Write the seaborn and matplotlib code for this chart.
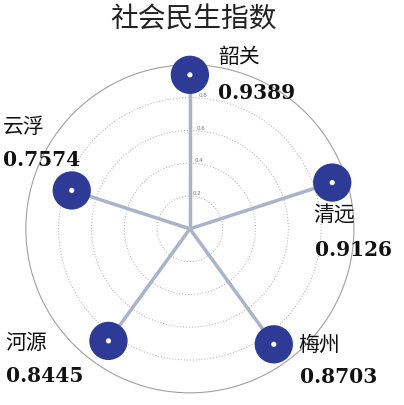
import numpy as np
import pandas as pd
import matplotlib
matplotlib.use("Agg")
import matplotlib.pyplot as plt
import seaborn as sns

cities = ["韶关", "清远", "梅州", "河源", "云浮"]
values = [0.9389, 0.9126, 0.8703, 0.8445, 0.7574]
angles_deg = [0, 72, 144, 216, 288]
ring_ticks = [0.2, 0.4, 0.6, 0.8]
ring_labels = ["0.2", "0.4", "0.6", "0.8"]
title = "社会民生指数"

sns.set_style("white")
plt.rcParams["font.family"] = ["Noto Sans CJK SC", "DejaVu Sans"]

theta = np.deg2rad(angles_deg)
pts = pd.DataFrame({"city": cities, "theta": theta, "r": values})
spokes = pd.DataFrame({
    "city": [c for c in cities for _ in range(2)],
    "theta": [t for t in theta for _ in range(2)],
    "r": [x for v in values for x in (0.0, v)],
})

fig = plt.figure(figsize=(4.04, 4.05), dpi=100)
fig.patch.set_facecolor("white")
ax = fig.add_axes([0.064, 0.030, 0.812, 0.810], projection="polar")
ax.set_theta_zero_location("N")
ax.set_theta_direction(-1)
ax.set_ylim(0, 1.0)

sns.lineplot(data=spokes, x="theta", y="r", units="city", estimator=None,
             sort=False, color="#a9b3c9", linewidth=2.5, ax=ax, legend=False)
sns.scatterplot(data=pts, x="theta", y="r", s=760, color="#2d3a96",
                edgecolor="none", ax=ax, legend=False, zorder=5)
sns.scatterplot(data=pts, x="theta", y="r", s=14, color="white",
                edgecolor="none", ax=ax, legend=False, zorder=6)
for coll in ax.collections:
    coll.set_clip_on(False)

ax.set_xlabel("")
ax.set_ylabel("")
ax.set_xticks([])
ax.set_yticks(ring_ticks)
ax.set_yticklabels(ring_labels, fontsize=4, color="#777777", family="DejaVu Sans")
ax.set_rlabel_position(4)
ax.yaxis.grid(True, color="#aaaaaa", linestyle=(0, (1, 2)), linewidth=0.7)
ax.xaxis.grid(False)
ax.spines["polar"].set_color("#a0a0a0")
ax.spines["polar"].set_linewidth(0.8)
ax.set_facecolor("white")

fig.text(0.478, 0.953, title, ha="center", va="center", fontsize=20, color="#222222")

name_pos = [(218, 57), (313, 216), (298, 345), (5, 343), (3, 127)]
val_pos = [(218, 93), (315, 250), (300, 377), (6, 376), (3, 160)]
W, H = 404.0, 405.0
for c, v, (nx, ny), (vx, vy) in zip(cities, values, name_pos, val_pos):
    fig.text(nx / W, 1 - ny / H, c, ha="left", va="center", fontsize=15, color="#111111")
    fig.text(vx / W, 1 - vy / H, f"{v:.4f}", ha="left", va="center", fontsize=14.5,
             fontweight="heavy", family="DejaVu Serif", color="#111111")

fig.savefig("out.png", dpi=100, facecolor="white")
